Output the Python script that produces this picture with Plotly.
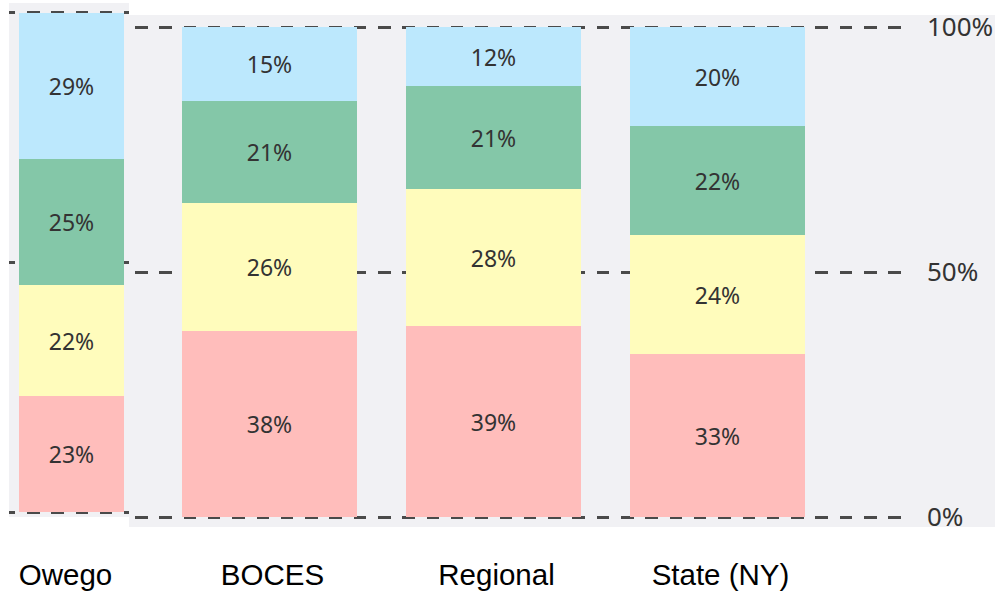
import plotly.graph_objects as go

# ---- data ----
owego_cat = ["Owego"]
main_cats = ["BOCES", "Regional", "State (NY)"]

# bottom -> top segments
owego_red = [23]
owego_yellow = [22]
owego_green = [25]
owego_blue = [29]

main_red = [38, 39, 33]
main_yellow = [26, 28, 24]
main_green = [21, 21, 22]
main_blue = [15, 12, 20]

y_tickvals = [0, 50, 100]
y_ticktext = ["0%", "50%", "100%"]

colors = {"red": "#ffbdbb", "yellow": "#fffcbc", "green": "#84c7a8", "blue": "#bce8fd"}

W, H = 1007, 595
def px(x):
    return x / W
def py(y):
    return 1 - y / H

fig = go.Figure()

txt_font = dict(family="Noto Sans", size=23, color="#333333")

for name, vals in [("red", owego_red), ("yellow", owego_yellow), ("green", owego_green), ("blue", owego_blue)]:
    fig.add_trace(go.Bar(
        x=owego_cat, y=vals, width=0.8, marker=dict(color=colors[name], line=dict(width=0)),
        text=[f"{v}%" for v in vals], textposition="inside", insidetextanchor="middle",
        textangle=0, textfont=txt_font, constraintext="none",
        xaxis="x", yaxis="y", showlegend=False, hoverinfo="skip"))

for name, vals in [("red", main_red), ("yellow", main_yellow), ("green", main_green), ("blue", main_blue)]:
    fig.add_trace(go.Bar(
        x=main_cats, y=vals, width=0.781, marker=dict(color=colors[name], line=dict(width=0)),
        text=[f"{v}%" for v in vals], textposition="inside", insidetextanchor="middle",
        textangle=0, textfont=txt_font, constraintext="none",
        xaxis="x2", yaxis="y2", showlegend=False, hoverinfo="skip"))

grid_color = "#4a4a4a"
owego_dash = "6px,12px,12.5px,11.8px,12.5px,11.8px,12.5px,11.8px,12.5px,11.8px,12.5px,30px"
main_dash = "12.5px,11.8px"

label_font = dict(family="Liberation Sans", size=29.5, color="#000000")

fig.update_layout(
    width=W, height=H,
    margin=dict(l=0, r=0, t=0, b=0, pad=0),
    paper_bgcolor="white", plot_bgcolor="rgba(0,0,0,0)",
    barmode="stack", barnorm="percent", bargap=0,
    xaxis=dict(domain=[px(9), px(129)], type="category", range=[-0.476, 0.438],
               showgrid=False, zeroline=False, showline=False, ticks="", automargin=False,
               tickfont=label_font, ticklabelstandoff=37, ticklabelshift=-6, anchor="y"),
    yaxis=dict(domain=[py(517), py(3)], range=[-1.0, 102.0], tickvals=y_tickvals,
               showticklabels=False, showgrid=True, gridcolor=grid_color, gridwidth=2.5,
               griddash=owego_dash, zeroline=False, showline=False, ticks="", automargin=False,
               anchor="x"),
    xaxis2=dict(domain=[px(135), px(902)], type="category", range=[-0.6004, 2.8237],
                showgrid=False, zeroline=False, showline=False, ticks="", automargin=False,
                tickfont=label_font, ticklabelstandoff=27, ticklabelshift=3, anchor="y2"),
    yaxis2=dict(domain=[py(527), py(15)], range=[-2.04, 102.45], tickvals=y_tickvals,
                ticktext=y_ticktext, side="right", anchor="x2", automargin=False,
                tickfont=dict(family="Noto Sans", size=26, color="#333333"),
                ticklabelstandoff=24,
                showgrid=True, gridcolor=grid_color, gridwidth=2.5, griddash=main_dash,
                zeroline=False, showline=False, ticks=""),
    shapes=[
        dict(type="rect", xref="paper", yref="paper", x0=px(129), x1=px(995), y0=py(527), y1=py(15),
             fillcolor="#f1f1f4", line=dict(width=0), layer="below"),
        dict(type="rect", xref="paper", yref="paper", x0=px(9), x1=px(129), y0=py(517), y1=py(3),
             fillcolor="#f1f1f4", line=dict(width=0), layer="below"),
    ],
)

fig.write_html("out.html", config={"displayModeBar": False},
               post_script="document.body.style.margin='0';document.body.style.padding='0';")
